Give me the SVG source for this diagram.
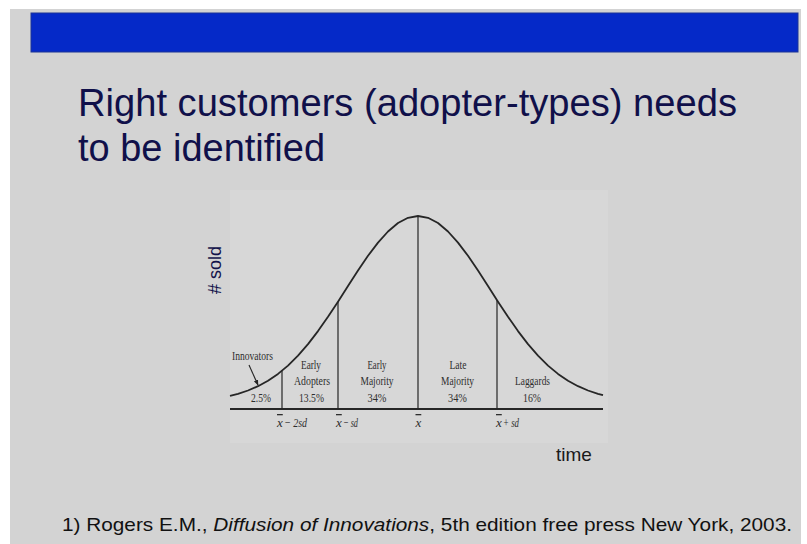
<svg xmlns="http://www.w3.org/2000/svg" width="807" height="544" viewBox="0 0 807 544">
<style>
.title{font-family:"Liberation Sans",Arial,sans-serif;font-size:38px;fill:#10104a}
.serif{font-family:"Liberation Serif","Times New Roman",serif;font-size:13.5px;fill:#2e2e2e;text-anchor:middle}
.ax{font-family:"Liberation Serif","Times New Roman",serif;font-size:13px;font-style:italic;fill:#2e2e2e}
.ob{text-decoration:overline}
.sans{font-family:"Liberation Sans",Arial,sans-serif}
.ln{stroke:#262626;fill:none}
</style>
<defs>
<marker id="ah" viewBox="0 0 10 10" refX="9" refY="5" markerWidth="5" markerHeight="5" orient="auto">
<path d="M0,1 L10,5 L0,9 z" fill="#262626"/>
</marker>
</defs>
<rect x="0" y="0" width="807" height="544" fill="#ffffff"/>
<rect x="10" y="9" width="791" height="535" fill="#d3d3d3"/>
<g id="header">
<rect x="31" y="13" width="767" height="39" fill="#0529c8" stroke="#1c3596" stroke-width="1"/>
</g>
<g id="title">
<text class="title" x="78" y="116" textLength="659" lengthAdjust="spacingAndGlyphs">Right customers (adopter-types) needs</text>
<text class="title" x="78" y="161" textLength="247" lengthAdjust="spacingAndGlyphs">to be identified</text>
</g>
<g id="chart">
<rect x="230" y="190" width="378" height="253" fill="#d7d7d7"/>
<polyline class="ln" stroke-width="1.8" stroke-linejoin="round" points="230,395.8 238,393.8 248,390.5 258,386.2 268,380.8 278,373.9 288,365.6 298,355.6 308,344.1 318,331.1 328,316.8 338,301.7 348,286.0 358,270.6 368,255.8 378,242.6 388,231.5 398,223.0 408,217.8 418,216 428,217.8 438,223.0 448,231.5 458,242.6 468,255.8 478,270.6 488,286.0 498,301.7 508,316.8 518,331.1 528,344.1 538,355.6 548,365.6 558,373.9 568,380.8 578,386.2 588,390.5 598,393.8 603,395.2"/>
<line class="ln" x1="230" y1="409" x2="603" y2="409" stroke-width="2"/>
<line class="ln" x1="282" y1="409" x2="282" y2="370.5" stroke-width="1.2"/>
<line class="ln" x1="338" y1="409" x2="338" y2="301.7" stroke-width="1.2"/>
<line class="ln" x1="418" y1="409" x2="418" y2="216" stroke-width="1.2"/>
<line class="ln" x1="497" y1="409" x2="497" y2="300.2" stroke-width="1.2"/>
<line class="ln" x1="249" y1="365" x2="258" y2="385" stroke-width="1.1" marker-end="url(#ah)"/>
</g>
<g id="segment-labels">
<text class="serif" x="252.5" y="360" textLength="41" lengthAdjust="spacingAndGlyphs">Innovators</text>
<text class="serif" x="261" y="402" textLength="20" lengthAdjust="spacingAndGlyphs">2.5%</text>
<text class="serif" x="311" y="369" textLength="20" lengthAdjust="spacingAndGlyphs">Early</text>
<text class="serif" x="312" y="385" textLength="36" lengthAdjust="spacingAndGlyphs">Adopters</text>
<text class="serif" x="311.5" y="402" textLength="25" lengthAdjust="spacingAndGlyphs">13.5%</text>
<text class="serif" x="377" y="369" textLength="19" lengthAdjust="spacingAndGlyphs">Early</text>
<text class="serif" x="377" y="385" textLength="33" lengthAdjust="spacingAndGlyphs">Majority</text>
<text class="serif" x="377" y="402" textLength="19" lengthAdjust="spacingAndGlyphs">34%</text>
<text class="serif" x="458" y="369" textLength="17" lengthAdjust="spacingAndGlyphs">Late</text>
<text class="serif" x="457.5" y="385" textLength="33" lengthAdjust="spacingAndGlyphs">Majority</text>
<text class="serif" x="457.5" y="402" textLength="19" lengthAdjust="spacingAndGlyphs">34%</text>
<text class="serif" x="532.5" y="385" textLength="35" lengthAdjust="spacingAndGlyphs">Laggards</text>
<text class="serif" x="532" y="402" textLength="18" lengthAdjust="spacingAndGlyphs">16%</text>
</g>
<g id="axis-labels">
<text class="ax ob" x="277" y="427">x</text>
<text class="ax" x="284" y="427" textLength="23" lengthAdjust="spacingAndGlyphs">− 2sd</text>
<text class="ax ob" x="336" y="427">x</text>
<text class="ax" x="343" y="427" textLength="15" lengthAdjust="spacingAndGlyphs">− sd</text>
<text class="ax ob" x="415.5" y="427">x</text>
<text class="ax ob" x="496" y="427">x</text>
<text class="ax" x="503" y="427" textLength="16" lengthAdjust="spacingAndGlyphs">+ sd</text>
<text class="sans" x="0" y="0" font-size="18" fill="#12124a" text-anchor="middle" transform="translate(221,270) rotate(-90)"># sold</text>
<text class="sans" x="574" y="461" font-size="19" fill="#1a1a1a" text-anchor="middle">time</text>
</g>
<g id="footer">
<text class="sans" x="62" y="531" font-size="19" fill="#111111" textLength="730" lengthAdjust="spacingAndGlyphs">1) Rogers E.M., <tspan font-style="italic">Diffusion of Innovations</tspan>, 5th edition free press New York, 2003.</text>
</g>
</svg>
